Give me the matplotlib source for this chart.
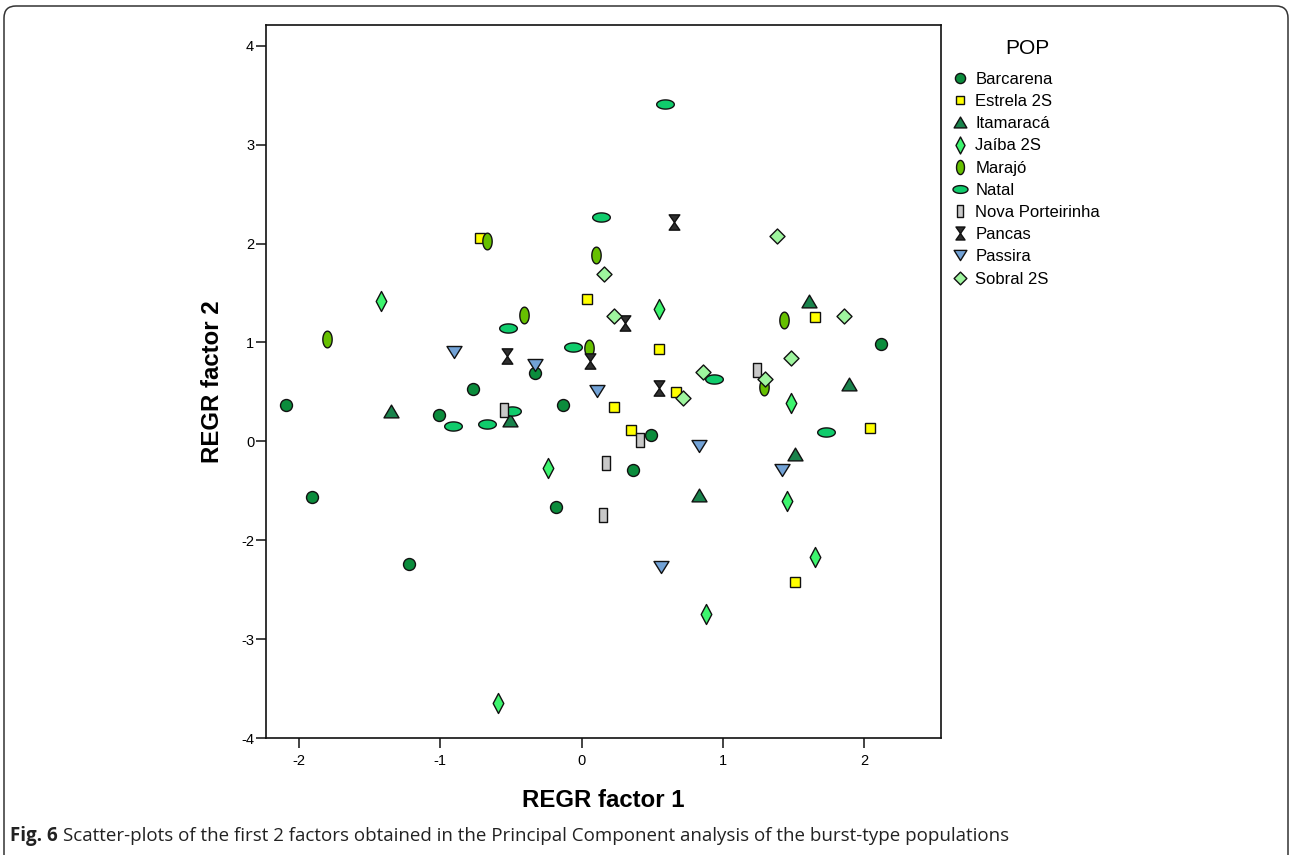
import numpy as np
import matplotlib
matplotlib.use("Agg")
import matplotlib.pyplot as plt
from matplotlib.path import Path
from matplotlib.patches import FancyBboxPatch
from matplotlib.transforms import IdentityTransform

plt.rcParams['font.family'] = ['Liberation Sans', 'DejaVu Sans']

# --- data: REGR factor scores per population ---
pops = ['Barcarena', 'Estrela 2S', 'Itamaracá', 'Jaíba 2S', 'Marajó', 'Natal',
        'Nova Porteirinha', 'Pancas', 'Passira', 'Sobral 2S']

barcarena_x = [-2.09, -1.91, -1.22, -1.01, -0.77, -0.33, -0.13, -0.18, 0.36, 0.49, 2.12]
barcarena_y = [0.37, -0.56, -1.24, 0.27, 0.53, 0.69, 0.37, -0.66, -0.29, 0.06, 0.98]

estrela_x = [-0.72, 0.04, 0.55, 0.67, 0.23, 0.35, 1.65, 2.04, 1.51]
estrela_y = [2.06, 1.44, 0.93, 0.50, 0.35, 0.11, 1.26, 0.13, -1.42]

itamaraca_x = [-1.35, -0.51, 1.61, 1.89, 1.51, 0.83]
itamaraca_y = [0.31, 0.22, 1.42, 0.58, -0.13, -0.54]

jaiba_x = [-1.42, -0.24, 0.55, 1.48, 1.45, 1.65, 0.88, -0.59]
jaiba_y = [1.42, -0.27, 1.34, 0.39, -0.60, -1.17, -1.75, -2.65]

marajo_x = [-1.80, -0.41, -0.67, 0.10, 0.05, 1.43, 1.29]
marajo_y = [1.03, 1.28, 2.03, 1.88, 0.94, 1.23, 0.55]

natal_x = [0.59, 0.14, -0.52, -0.06, -0.91, -0.67, -0.49, 0.94, 1.73]
natal_y = [3.41, 2.27, 1.15, 0.95, 0.15, 0.18, 0.31, 0.63, 0.09]

nova_x = [-0.55, 0.17, 0.41, 0.15, 1.24]
nova_y = [0.32, -0.22, 0.01, -0.74, 0.72]

pancas_x = [0.65, 0.31, -0.53, 0.06, 0.55]
pancas_y = [2.22, 1.20, 0.86, 0.81, 0.54]

passira_x = [-0.90, -0.33, 0.11, 0.83, 1.42, 0.56]
passira_y = [0.90, 0.77, 0.51, -0.05, -0.29, -1.27]

sobral_x = [1.38, 0.16, 0.23, 1.86, 1.48, 0.86, 1.30, 0.72]
sobral_y = [2.08, 1.69, 1.27, 1.27, 0.84, 0.70, 0.63, 0.44]

xs = [barcarena_x, estrela_x, itamaraca_x, jaiba_x, marajo_x,
      natal_x, nova_x, pancas_x, passira_x, sobral_x]
ys = [barcarena_y, estrela_y, itamaraca_y, jaiba_y, marajo_y,
      natal_y, nova_y, pancas_y, passira_y, sobral_y]

# y axis tick labels as printed in the figure
ytick_pos = [4, 3, 2, 1, 0, -1, -2, -3]
ytick_labels = ['4', '3', '2', '1', '0', '-2', '-3', '-4']
xtick_pos = [-2, -1, 0, 1, 2]


# --- marker shapes ---
def closed(verts):
    verts = list(verts) + [verts[0]]
    codes = [Path.MOVETO] + [Path.LINETO] * (len(verts) - 2) + [Path.CLOSEPOLY]
    return Path(verts, codes)


t = np.linspace(0, 2 * np.pi, 48, endpoint=False)
ellipse_h = closed(list(zip(np.cos(t), 0.52 * np.sin(t))))
ellipse_v = closed(list(zip(0.56 * np.cos(t), np.sin(t))))
thin_diamond = closed([(0, 1), (0.53, 0), (0, -1), (-0.53, 0)])
diamond = closed([(0, 1), (1, 0), (0, -1), (-1, 0)])
tall_rect = closed([(-0.52, -1), (0.52, -1), (0.52, 1), (-0.52, 1)])
tri_up = closed([(0, 0.85), (-1, -0.85), (1, -0.85)])
tri_down = closed([(0, -0.8), (-1, 0.8), (1, 0.8)])
hourglass = Path([(-0.7, 1), (0.7, 1), (0, 0), (-0.7, 1),
                  (0, 0), (0.7, -1), (-0.7, -1), (0, 0)],
                 [Path.MOVETO, Path.LINETO, Path.LINETO, Path.CLOSEPOLY,
                  Path.MOVETO, Path.LINETO, Path.LINETO, Path.CLOSEPOLY])

styles = {
    'Barcarena': ('o', 8.6, '#0b8c3c'),
    'Estrela 2S': ('s', 7.6, '#ffff00'),
    'Itamaracá': (tri_up, 10.8, '#19834c'),
    'Jaíba 2S': (thin_diamond, 14.4, '#3df56e'),
    'Marajó': (ellipse_v, 12.0, '#66c000'),
    'Natal': (ellipse_h, 12.7, '#10cc6c'),
    'Nova Porteirinha': (tall_rect, 10.0, '#c8c8c8'),
    'Pancas': (hourglass, 11.0, '#2e2e2e'),
    'Passira': (tri_down, 10.8, '#72a2d6'),
    'Sobral 2S': (diamond, 10.8, '#9ef59e'),
}

W, H = 1292, 855
fig = plt.figure(figsize=(W / 100, H / 100), dpi=100)

ax = fig.add_axes([266 / W, 1 - 738 / H, (941 - 266) / W, (738 - 25) / H])

for name, x, y in zip(pops, xs, ys):
    m, ms, c = styles[name]
    ax.plot(x, y, ls='none', marker=m, ms=ms, mfc=c, mec='#111111', mew=1.0,
            label=name)

ax.set_xlim(-2.234, 2.543)
ax.set_ylim(-2.98, 4.21)
ax.set_xticks(xtick_pos)
ax.set_xticklabels([str(v) for v in xtick_pos])
ax.set_yticks(ytick_pos)
ax.set_yticklabels(ytick_labels)
ax.tick_params(direction='out', length=7.5, width=1.1, labelsize=10.5, color='#111111')
ax.tick_params(axis='y', pad=1)
ax.tick_params(axis='x', pad=4)
for s in ax.spines.values():
    s.set_linewidth(1.2)
    s.set_color('#111111')

fig.text(603.5 / W, 1 - 800 / H, 'REGR factor 1', fontsize=17.3, fontweight='bold',
         ha='center', va='center')
fig.text(213 / W, 1 - 381.5 / H, 'REGR factor 2', fontsize=17.3, fontweight='bold',
         ha='center', va='center', rotation=90)

# legend (title placed separately to match the gap under it)
fig.text(1027 / W, 1 - 48 / H, 'POP', fontsize=15, ha='center', va='center')
leg = ax.legend(loc='upper left', bbox_to_anchor=(952 / W, 1 - 72 / H),
                bbox_transform=fig.transFigure, frameon=False,
                fontsize=12, markerscale=0.85,
                handlelength=1.0, handletextpad=0.4, labelspacing=0.43,
                borderpad=0, borderaxespad=0, numpoints=1)

# rounded frame around figure + caption
frame = FancyBboxPatch((4, -40), 1284, 889, boxstyle='round,pad=0,rounding_size=12',
                       transform=IdentityTransform(), fill=False,
                       edgecolor='#333333', linewidth=1.1)
fig.patches.append(frame)

cap_y = 1 - 836 / H
t1 = fig.text(10 / W, cap_y, 'Fig. 6', fontsize=13.5, fontweight='bold',
              family='Open Sans', ha='left', va='center', color='#222222')
fig.canvas.draw()
bb = t1.get_window_extent()
fig.text((bb.x1 + 5) / W, cap_y,
         'Scatter-plots of the first 2 factors obtained in the Principal '
         'Component analysis of the burst-type populations',
         fontsize=13.5, family='Open Sans', ha='left', va='center', color='#222222')

fig.savefig('out.png', dpi=100)
